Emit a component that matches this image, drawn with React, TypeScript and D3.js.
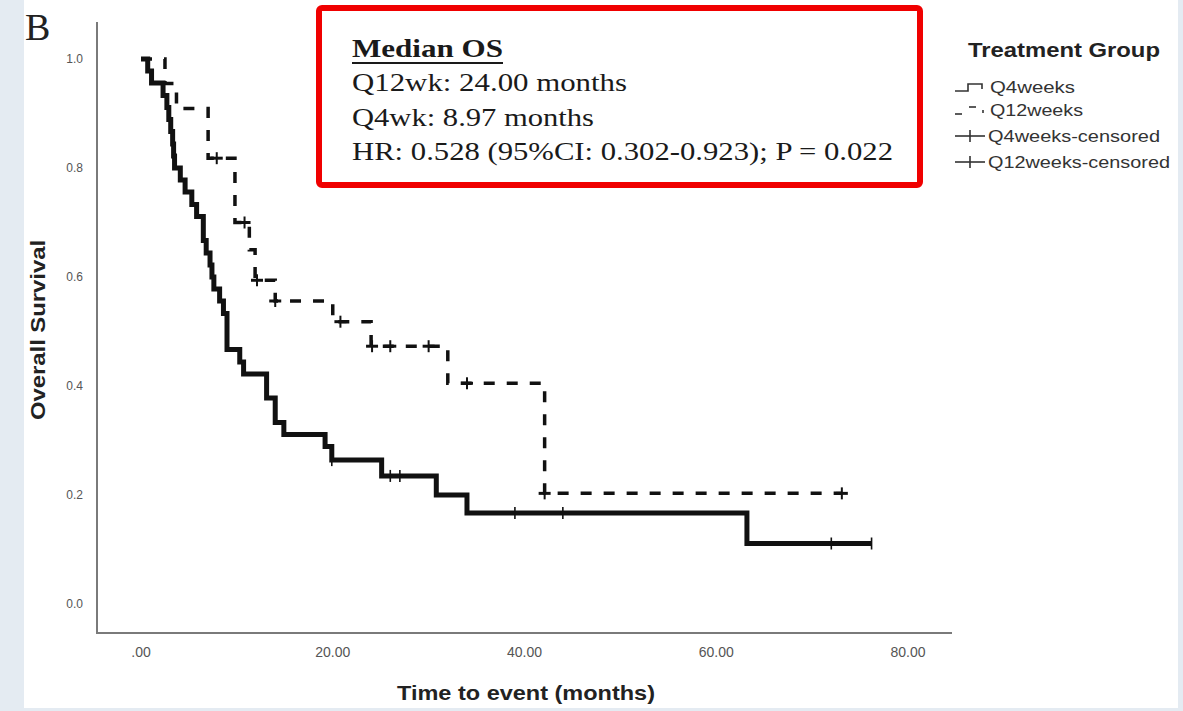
import React from "react"
import * as d3 from "d3"

// Kaplan-Meier readings (months, survival after the step)
const Q4_TIME = [0, 0.7, 1.1, 2.3, 2.7, 2.9, 3.1, 3.3, 3.4, 3.5, 4.1, 4.6, 5.3, 5.8, 6.5, 6.8, 7.2, 7.4, 7.6, 8.2, 8.6, 8.97, 10.3, 10.7, 13.1, 14.0, 14.9, 19.2, 19.9, 25.1, 30.8, 34.0, 63.2]
const Q4_SURV = [1.0, 0.978, 0.956, 0.933, 0.911, 0.889, 0.867, 0.844, 0.822, 0.8, 0.778, 0.756, 0.733, 0.711, 0.667, 0.644, 0.622, 0.6, 0.578, 0.556, 0.533, 0.467, 0.444, 0.422, 0.378, 0.333, 0.311, 0.289, 0.264, 0.235, 0.2, 0.167, 0.111]
const Q4_CENSOR_TIME = [19.9, 26.0, 27.0, 39.0, 44.0, 72.0, 76.2]
const Q4_CENSOR_SURV = [0.264, 0.235, 0.235, 0.167, 0.167, 0.111, 0.111]

const Q12_TIME = [0, 2.5, 3.7, 7.0, 9.8, 11.3, 11.9, 14.0, 20.0, 24.0, 32.0, 42.1]
const Q12_SURV = [1.0, 0.955, 0.909, 0.818, 0.7, 0.65, 0.594, 0.556, 0.518, 0.473, 0.405, 0.203]
const Q12_CENSOR_TIME = [7.9, 10.8, 12.1, 14.0, 20.8, 24.1, 26.0, 30.0, 34.0, 42.1, 73.1]
const Q12_CENSOR_SURV = [0.818, 0.7, 0.594, 0.556, 0.518, 0.473, 0.473, 0.473, 0.405, 0.203, 0.203]

const X_TICKS = [0, 20, 40, 60, 80]
const X_TICK_LABELS = [".00", "20.00", "40.00", "60.00", "80.00"]
const Y_TICKS = [0, 0.2, 0.4, 0.6, 0.8, 1.0]
const Y_TICK_LABELS = ["0.0", "0.2", "0.4", "0.6", "0.8", "1.0"]

const LEGEND_LABELS = ["Q4weeks", "Q12weeks", "Q4weeks-censored", "Q12weeks-censored"]
const LEGEND_WIDTHS = [85, 93, 172, 182]
const BOX_LINES = ["Q12wk: 24.00 months", "Q4wk: 8.97 months", "HR: 0.528 (95%CI: 0.302-0.923); P = 0.022"]
const BOX_WIDTHS = [275, 242, 541]

const W = 1183
const H = 711
const SANS = "'Liberation Sans', Arial, sans-serif"
const SERIF = "'Liberation Serif', 'Times New Roman', serif"

export default function App() {
    const x = d3.scaleLinear().domain([0, 80]).range([141, 908])
    const y = d3.scaleLinear().domain([0, 1]).range([604, 59])

    const step = d3
        .line<[number, number]>()
        .x((d) => x(d[0]))
        .y((d) => y(d[1]))
        .curve(d3.curveStepAfter)

    // extend each curve to its last censored time
    const q4pts: [number, number][] = Q4_TIME.map((t, i) => [t, Q4_SURV[i]])
    q4pts.push([d3.max(Q4_CENSOR_TIME)!, Q4_SURV[Q4_SURV.length - 1]])
    const q12pts: [number, number][] = Q12_TIME.map((t, i) => [t, Q12_SURV[i]])
    q12pts.push([d3.max(Q12_CENSOR_TIME)!, Q12_SURV[Q12_SURV.length - 1]])

    const axisColor = "#7a7a7a"
    const ink = "#111"

    return (
        <svg
            width={W}
            height={H}
            style={{ position: "absolute", left: 0, top: 0, background: "#ffffff" }}
        >
            {/* pale page around the panel */}
            <rect x={0} y={0} width={W} height={H} fill="#e4ebf2" />
            <rect x={24} y={0} width={1154} height={708} fill="#ffffff" />

            {/* panel letter */}
            <text x={25} y={40} fontFamily={SERIF} fontSize={38} fill="#222">
                B
            </text>

            {/* axes (no tick marks, SPSS style) */}
            <line x1={97} y1={22} x2={97} y2={633} stroke={axisColor} strokeWidth={2} />
            <line x1={96} y1={633} x2={952} y2={633} stroke={axisColor} strokeWidth={2} />

            {Y_TICKS.map((v, i) => (
                <text
                    key={"yt" + i}
                    x={83}
                    y={y(v)}
                    dy="0.35em"
                    textAnchor="end"
                    fontFamily={SANS}
                    fontSize={12}
                    fill="#555"
                >
                    {Y_TICK_LABELS[i]}
                </text>
            ))}
            {X_TICKS.map((v, i) => (
                <text
                    key={"xt" + i}
                    x={x(v)}
                    y={657}
                    textAnchor="middle"
                    fontFamily={SANS}
                    fontSize={14}
                    fill="#555"
                >
                    {X_TICK_LABELS[i]}
                </text>
            ))}

            <text
                x={526}
                y={700}
                textAnchor="middle"
                fontFamily={SANS}
                fontWeight="bold"
                fontSize={21}
                fill="#222"
                textLength={258}
                lengthAdjust="spacingAndGlyphs"
            >
                Time to event (months)
            </text>
            <text
                transform="translate(45,330) rotate(-90)"
                textAnchor="middle"
                fontFamily={SANS}
                fontWeight="bold"
                fontSize={21}
                fill="#222"
                textLength={180}
                lengthAdjust="spacingAndGlyphs"
            >
                Overall Survival
            </text>

            {/* curves */}
            <path
                d={step(q12pts) || ""}
                fill="none"
                stroke={ink}
                strokeWidth={3.5}
                strokeDasharray="11,12"
            />
            <path d={step(q4pts) || ""} fill="none" stroke={ink} strokeWidth={5} />

            {/* censor marks */}
            {Q4_CENSOR_TIME.map((t, i) => (
                <g key={"c4" + i} stroke={ink} strokeWidth={1.6}>
                    <line x1={x(t)} x2={x(t)} y1={y(Q4_CENSOR_SURV[i]) - 6} y2={y(Q4_CENSOR_SURV[i]) + 6} />
                </g>
            ))}
            {Q12_CENSOR_TIME.map((t, i) => (
                <g key={"c12" + i} stroke={ink} strokeWidth={2}>
                    <line x1={x(t)} x2={x(t)} y1={y(Q12_CENSOR_SURV[i]) - 6} y2={y(Q12_CENSOR_SURV[i]) + 6} />
                    <line x1={x(t) - 6} x2={x(t) + 6} y1={y(Q12_CENSOR_SURV[i])} y2={y(Q12_CENSOR_SURV[i])} strokeWidth={3} />
                </g>
            ))}

            {/* red annotation box */}
            <rect x={319} y={8} width={601} height={177} rx={3} fill="#ffffff" stroke="#f00000" strokeWidth={6} />
            <text
                x={352}
                y={57}
                fontFamily={SERIF}
                fontWeight="bold"
                fontSize={26}
                fill="#1a1a1a"
                textLength={151}
                lengthAdjust="spacingAndGlyphs"
            >
                Median OS
            </text>
            <line x1={352} x2={503} y1={63} y2={63} stroke="#1a1a1a" strokeWidth={2} />
            {BOX_LINES.map((s, i) => (
                <text
                    key={"bl" + i}
                    x={352}
                    y={91 + i * 34.5}
                    fontFamily={SERIF}
                    fontSize={26}
                    fill="#1a1a1a"
                    textLength={BOX_WIDTHS[i]}
                    lengthAdjust="spacingAndGlyphs"
                >
                    {s}
                </text>
            ))}

            {/* legend */}
            <text
                x={968}
                y={57}
                fontFamily={SANS}
                fontWeight="bold"
                fontSize={21}
                fill="#222"
                textLength={192}
                lengthAdjust="spacingAndGlyphs"
            >
                Treatment Group
            </text>
            <g stroke="#333" strokeWidth={1.6} fill="none">
                <polyline points="955,91 968,91 968,84 982,84 982,89" />
                <line x1={955} x2={962} y1={114} y2={114} />
                <line x1={969} x2={976} y1={107} y2={107} />
                <line x1={983} x2={983} y1={110} y2={113} />
                <line x1={955} x2={985} y1={136} y2={136} />
                <line x1={970} x2={970} y1={130} y2={142} />
                <line x1={955} x2={985} y1={162} y2={162} />
                <line x1={970} x2={970} y1={156} y2={168} />
            </g>
            {LEGEND_LABELS.map((s, i) => (
                <text
                    key={"lg" + i}
                    x={i < 2 ? 990 : 988}
                    y={[93, 116, 142, 168][i]}
                    fontFamily={SANS}
                    fontSize={17}
                    fill="#333"
                    textLength={LEGEND_WIDTHS[i]}
                    lengthAdjust="spacingAndGlyphs"
                >
                    {s}
                </text>
            ))}
        </svg>
    )
}
